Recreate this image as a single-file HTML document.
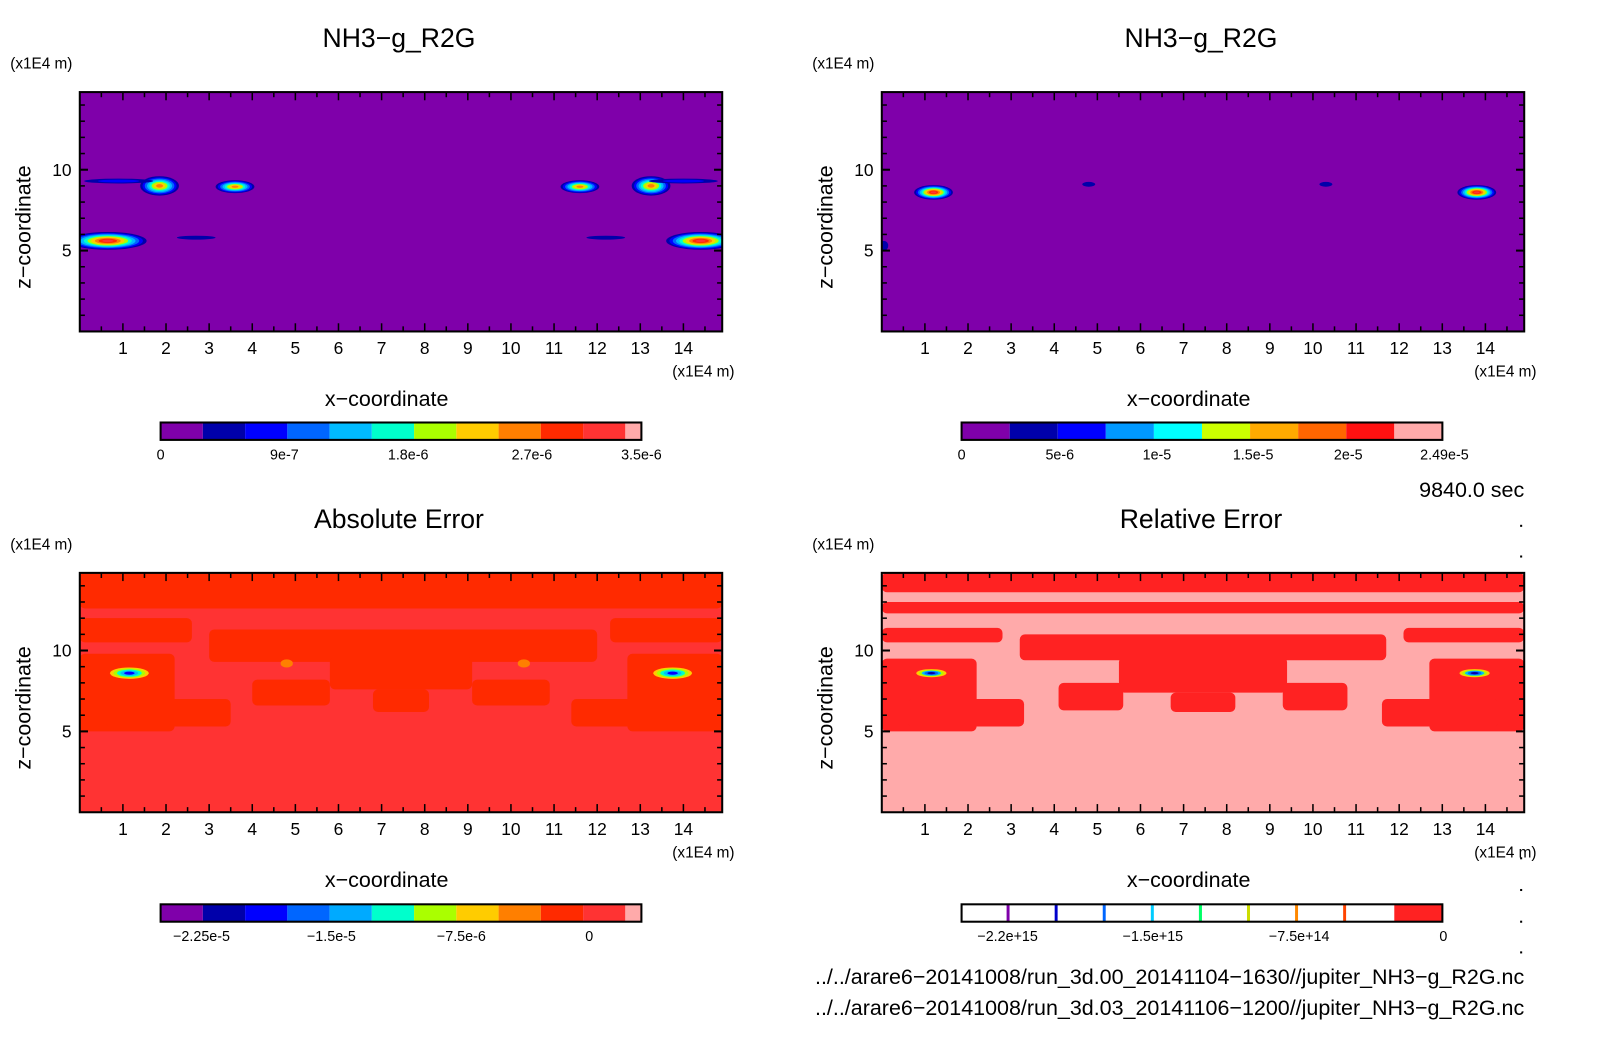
<!DOCTYPE html>
<html><head><meta charset="utf-8"><style>
html,body{margin:0;padding:0;background:#fff;}
svg{display:block;font-family:"Liberation Sans","DejaVu Sans",sans-serif;}
</style></head><body>
<svg id="chart" width="1604" height="1054" viewBox="0 0 1568 1030.3" xmlns="http://www.w3.org/2000/svg"></svg>
<script>
// ---- data ----
const xTicks = [1,2,3,4,5,6,7,8,9,10,11,12,13,14];
const zTicks = [5,10];
const cb1Labels = ["0","9e-7","1.8e-6","2.7e-6","3.5e-6"];
const cb2Labels = ["0","5e-6","1e-5","1.5e-5","2e-5","2.49e-5"];
const cb3Labels = ["\u22122.25e-5","\u22121.5e-5","\u22127.5e-6","0"];
const cb4Labels = ["\u22122.2e+15","\u22121.5e+15","\u22127.5e+14","0"];
const rainbow = ["#7f00aa","#0000aa","#0000ff","#0066ff","#00bbff","#00ffcc","#aaff00","#ffcc00","#ff7f00","#ff2a00","#ff3333","#ffaaaa"];
// blobs: [x, z, rx, rz, peakLevel]
const blobs1 = [[0.65,5.6,0.9,0.55,10],[1.85,9.0,0.45,0.6,8],[3.6,8.95,0.45,0.4,8],[11.6,8.95,0.45,0.4,8],[13.25,9.0,0.45,0.6,8],[14.4,5.6,0.8,0.55,10],[2.7,5.8,0.45,0.12,1],[12.2,5.8,0.45,0.12,1],[0.9,9.3,0.8,0.15,2],[14.0,9.3,0.8,0.15,2]];
const blobs2 = [[1.2,8.6,0.45,0.45,10],[13.8,8.6,0.45,0.45,10],[4.8,9.1,0.15,0.15,1],[10.3,9.1,0.15,0.15,1],[0.05,5.3,0.1,0.3,1]];
// abs error patches [x0,x1,z0,z1] (darker orange-red)
const absPatches = [[0,14.9,12.6,14.8],[0,2.6,10.5,12.0],[12.3,14.9,10.5,12.0],[0,2.2,5.0,9.8],[12.7,14.9,5.0,9.8],[0.6,3.5,5.3,7.0],[11.4,14.3,5.3,7.0],[3.0,12.0,9.3,11.3],[5.8,9.1,7.6,9.6],[6.8,8.1,6.2,7.6],[4.0,5.8,6.6,8.2],[9.1,10.9,6.6,8.2]];
// rel error patches (red on pink)
const relPatches = [[0,14.9,13.6,14.8],[0,14.9,12.3,13.0],[0,2.2,5.0,9.5],[12.7,14.9,5.0,9.5],[0.6,3.3,5.3,7.0],[11.6,14.3,5.3,7.0],[3.2,11.7,9.4,11.0],[5.5,9.4,7.4,9.6],[6.7,8.2,6.2,7.4],[4.1,5.6,6.3,8.0],[9.3,10.8,6.3,8.0],[0,2.8,10.5,11.4],[12.1,14.9,10.5,11.4]];
const relBlobs = [[1.15,8.6,0.35,0.25,5],[13.75,8.6,0.35,0.25,5]];
const absBlobs = [[1.15,8.6,0.45,0.35,5],[13.75,8.6,0.45,0.35,5]];
const absDots = [[4.8,9.2],[10.3,9.2]];

const NS="http://www.w3.org/2000/svg";
const svg=document.getElementById('chart');
function mk(tag,attrs,parent){const e=document.createElementNS(NS,tag);for(const k in attrs)e.setAttribute(k,attrs[k]);(parent||svg).appendChild(e);return e;}
function txt(s,x,y,size,anchor,parent){const t=mk('text',{x:x,y:y,'font-size':size,'text-anchor':anchor||'middle',fill:'#000'},parent);t.textContent=s;return t;}

const XMAX=14.9, ZMAX=14.8;
function panel(px,py,name,title,drawFn){
  const W=628,H=234;
  const g=mk('g',{});
  
  
  const sx=v=>px+v/XMAX*W, sz=v=>py+H-v/ZMAX*H;
  const t=txt(title,px+W/2-2,py-44,26,'middle',g);
  
  
  const u=txt('(x1E4 m)',px-68,py-23,15,'start',g);
  
  
  const cp='clip'+name;
  const cl=mk('clipPath',{id:cp},g);mk('rect',{x:px,y:py,width:W,height:H},cl);
  const f=mk('g',{'clip-path':'url(#'+cp+')'},g);
  
  
  drawFn(f,sx,sz,W,H);
  mk('rect',{x:px,y:py,width:W,height:H,fill:'none',stroke:'#000','stroke-width':2},g);
  for(let v=0.5;v<XMAX;v+=0.5){const major=Math.abs(v-Math.round(v))<1e-6;const L=major?8:5;
    mk('line',{x1:sx(v),x2:sx(v),y1:py+H,y2:py+H-L,stroke:'#000','stroke-width':1.5},g);
    mk('line',{x1:sx(v),x2:sx(v),y1:py,y2:py+L,stroke:'#000','stroke-width':1.5},g);}
  for(let v=1;v<ZMAX;v+=1){const major=zTicks.includes(v);const L=major?8:5;
    mk('line',{x1:px,x2:px+L,y1:sz(v),y2:sz(v),stroke:'#000','stroke-width':major?2:1.5},g);
    mk('line',{x1:px+W,x2:px+W-L,y1:sz(v),y2:sz(v),stroke:'#000','stroke-width':major?2:1.5},g);}
  xTicks.forEach(v=>{const l=txt(String(v),sx(v),py+H+22,17,'middle',g);
    
    });
  zTicks.forEach(v=>{const l=txt(String(v),px-8,sz(v)+6,17,'end',g);
    
    });
  const xu=txt('(x1E4 m)',px+W+12,py+H+44,15,'end',g);
  
  
  const xl=txt('x\u2212coordinate',px+W/2-14,py+H+73,21,'middle',g);
  
  
  const zl=txt('z\u2212coordinate',0,0,21,'middle',g);
  zl.setAttribute('transform','translate('+(px-48)+','+(py+H/2+15)+') rotate(-90)');
  
  
}
function drawBlob(f,sx,sz,b,colors){
  const [x,z,rx,rz,lvl]=b;
  for(let i=1;i<=lvl;i++){const k=1-(i-1)/(lvl+0.5);
    const e=mk('ellipse',{cx:sx(x),cy:sz(z),rx:rx*k/XMAX*628,ry:rz*k/ZMAX*234,fill:colors[i]},f);
    
    }
}
function patches(f,sx,sz,arr,color){arr.forEach(p=>{
  const r=mk('rect',{x:sx(p[0]),y:sz(p[3]),width:sx(p[1])-sx(p[0]),height:sz(p[2])-sz(p[3]),fill:color,rx:5},f);
  
  });}

panel(78,90,'panel-nh3-run1','NH3\u2212g_R2G',(f,sx,sz,W,H)=>{
  mk('rect',{x:78,y:90,width:W,height:H,fill:rainbow[0]},f);
  blobs1.forEach(b=>drawBlob(f,sx,sz,b,rainbow));});
panel(862,90,'panel-nh3-run2','NH3\u2212g_R2G',(f,sx,sz,W,H)=>{
  mk('rect',{x:862,y:90,width:W,height:H,fill:rainbow[0]},f);
  blobs2.forEach(b=>drawBlob(f,sx,sz,b,rainbow));});
const absCols=["#ff3333","#ffcc00","#aaff00","#00ffcc","#00bbff","#0000ff","#0000aa"];
panel(78,560,'panel-absolute-error','Absolute Error',(f,sx,sz,W,H)=>{
  mk('rect',{x:78,y:560,width:W,height:H,fill:'#ff3333'},f);
  patches(f,sx,sz,absPatches,'#ff2a00');
  absDots.forEach(d=>{const c=mk('ellipse',{cx:sx(d[0]),cy:sz(d[1]),rx:6,ry:4,fill:'#ff7f00'},f);
    
    });
  absBlobs.forEach(b=>drawBlob(f,sx,sz,b,absCols));});
const relCols=["#ff2222","#ffcc00","#aaff00","#00bbff","#0066ff","#0000aa"];
panel(862,560,'panel-relative-error','Relative Error',(f,sx,sz,W,H)=>{
  mk('rect',{x:862,y:560,width:W,height:H,fill:'#ffaaaa'},f);
  patches(f,sx,sz,relPatches,'#ff2222');
  relBlobs.forEach(b=>drawBlob(f,sx,sz,b,relCols));});

function colorbar(x,y,name,cols,widths,labels,labelPos){
  const g=mk('g',{});
  
  
  let cx=x;cols.forEach((c,i)=>{const r=mk('rect',{x:cx,y:y,width:widths[i],height:17,fill:c},g);
    
    cx+=widths[i];});
  mk('rect',{x:x,y:y,width:470,height:17,fill:'none',stroke:'#000','stroke-width':2},g);
  labels.forEach((l,i)=>{const t=txt(l,labelPos[i],y+36,14,'middle',g);
    
    });
}
const w12=Array(11).fill(41.3).concat([15.7]);
colorbar(157,413,'colorbar-nh3-run1',rainbow,w12,cb1Labels,[157,278,399,520,627]);
const c2=["#7f00aa","#0000aa","#0000ff","#0099ff","#00ffff","#ccff00","#ffaa00","#ff6600","#ff1111","#ffaaaa"];
colorbar(940,413,'colorbar-nh3-run2',c2,Array(10).fill(47),cb2Labels,[940,1036,1131,1225,1318,1412]);
const c3=["#7f00aa","#0000aa","#0000ff","#0066ff","#00aaff","#00ffcc","#aaff00","#ffcc00","#ff7f00","#ff2a00","#ff3333","#ffaaaa"];
colorbar(157,884,'colorbar-absolute-error',c3,w12,cb3Labels,[197,324,451,576]);
const c4=["#fff","#7f00aa","#fff","#0000cc","#fff","#0066ff","#fff","#00ccff","#fff","#00ff66","#fff","#ccdd00","#fff","#ff8800","#fff","#ff4400","#fff","#ff2222"];
const w4=[44,3,44,3,44,3,44,3,44,3,44,3,44,3,44,3,47,47];
colorbar(940,884,'colorbar-relative-error',c4,w4,cb4Labels,[985,1127,1270,1411]);

const tm=txt('9840.0 sec',1490,486,21,'end');


const f1=txt('../../arare6\u221220141008/run_3d.00_20141104\u22121630//jupiter_NH3\u2212g_R2G.nc',1490,962,21,'end');


const f2=txt('../../arare6\u221220141008/run_3d.03_20141106\u22121200//jupiter_NH3\u2212g_R2G.nc',1490,992,21,'end');


[513,543,838,869,900,930].forEach(y=>{const d=mk('rect',{x:1486,y:y,width:2,height:2,fill:'#000'});
  
  });
</script>
</body></html>
